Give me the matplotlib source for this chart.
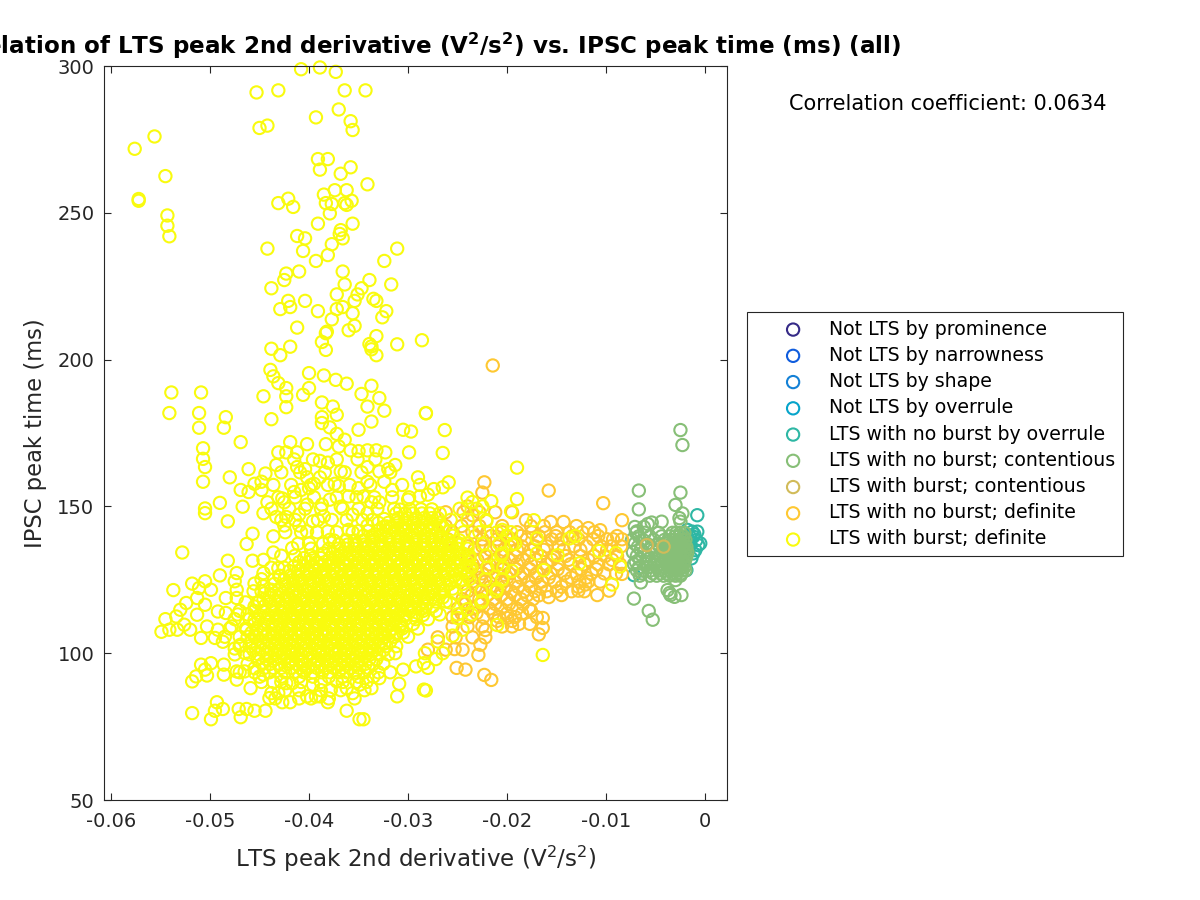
import numpy as np
from matplotlib import pyplot as plt

plt.rcParams['axes.unicode_minus'] = False

#colours of the classes, same order as the legend
labels = ["Not LTS by prominence", "Not LTS by narrowness", "Not LTS by shape", "Not LTS by overrule",
          "LTS with no burst by overrule", "LTS with no burst; contentious", "LTS with burst; contentious",
          "LTS with no burst; definite", "LTS with burst; definite"]
colors = ["#352A87", "#0F5CDD", "#1481D6", "#06A4CA", "#2EB7A4", "#87BF77", "#D1BB59", "#FEC832", "#F9FB0E"]
x_ticks = [-0.06, -0.05, -0.04, -0.03, -0.02, -0.01, 0]
x_ticklabels = ["-0.06", "-0.05", "-0.04", "-0.03", "-0.02", "-0.01", "0"]
y_ticks = [50, 100, 150, 200, 250, 300]

#teal class
teal_x = [-.0008, -.0008, -.0013, -.0018, -.0012, -.0007, -.0005, -.0010, -.0014, -.0019, -.0072, -.0009, -.0011, -.0016, -.0015, -.0012, -.0017]
teal_y = [147, 141.4, 141.4, 142, 139.7, 136.8, 137.4, 135.1, 132.3, 128.3, 126.6, 138.5, 140.5, 140, 137, 134, 135]

#tan class
tan_x = [-.0059, -.0042]
tan_y = [136.8, 136.3]

#green class, outliers
green_x = [-.0025, -.0023, -.0067, -.0025, -.0067, -.0030, -.0023, -.0025, -.0072, -.0057, -.0053, -.0065, -.0030, -.0038, -.0035, -.0031, -.0024,
           -.0036, -.0071, -.0058, -.0044, -.0054, -.0069, -.0062, -.0026]
green_y = [176, 170.9, 155.4, 154.7, 149, 150.5, 147.6, 144.8, 118.6, 114.4, 111.4, 124.1, 124.9, 121.5, 119.8, 119.2, 119.8,
           120.5, 143, 144, 144.8, 144.5, 141.5, 143, 146]
#green class, body of the cloud row by row
green_rows_y = [141, 139.8, 138.6, 137.3, 136.2, 135.2, 134.4, 133.1, 132, 131.1, 130.3, 129.3, 128.2, 127.2, 126.4]
green_rows_x = [
    [-.0070, -.0061, -.0047, -.0033, -.0029, -.0025, -.0021],
    [-.0067, -.0056, -.0044, -.0036, -.0030, -.0026, -.0022],
    [-.0074, -.0063, -.0052, -.0041, -.0035, -.0031, -.0027, -.0023, -.0020],
    [-.0071, -.0059, -.0048, -.0039, -.0033, -.0028, -.0024, -.0021],
    [-.0068, -.0055, -.0046, -.0038, -.0034, -.0030, -.0026, -.0022, -.0019],
    [-.0065, -.0052, -.0042, -.0036, -.0032, -.0028, -.0024, -.0020],
    [-.0073, -.0062, -.0050, -.0043, -.0037, -.0033, -.0029, -.0025, -.0021, -.0018],
    [-.0069, -.0058, -.0046, -.0040, -.0035, -.0031, -.0027, -.0023, -.0019],
    [-.0066, -.0057, -.0048, -.0040, -.0036, -.0032, -.0028, -.0024, -.0020],
    [-.0070, -.0060, -.0051, -.0043, -.0037, -.0033, -.0029, -.0025, -.0021],
    [-.0072, -.0060, -.0052, -.0044, -.0038, -.0034, -.0030, -.0026, -.0022],
    [-.0067, -.0058, -.0049, -.0041, -.0036, -.0032, -.0028, -.0024, -.0021],
    [-.0069, -.0063, -.0055, -.0047, -.0041, -.0036, -.0031, -.0027, -.0023, -.0020],
    [-.0064, -.0053, -.0045, -.0039, -.0033, -.0029, -.0024],
    [-.0066, -.0056, -.0049, -.0042, -.0036, -.0030, -.0025],
]

#orange class, outliers
orange_x = [-.02145, -.0223, -.0225, -.0158, -.0103, -.0084, -.0181, -.0156, -.0143, -.0130, -.0118, -.0106, -.0158, -.0145, -.0128, -.0109, -.0097,
            -.0121, -.0084, -.0164, -.0164, -.0168, -.0177, -.0227, -.0229, -.0253, -.0251, -.0242, -.0223, -.0216, -.0222, -.0210, -.0195,
            -.0188, -.0200, -.0176, -.0240, -.0235]
orange_y = [198, 158.2, 154.7, 155.4, 151.1, 145.3, 145.3, 144.7, 144.7, 143.3, 142.6, 141.9, 119.1, 119.8, 121.3, 119.8, 121.3,
            123.4, 127, 112, 108.6, 106.4, 110, 102.9, 99.4, 101.4, 95, 94.4, 92.6, 90.9, 107.9, 111, 111, 110, 112, 114.5, 150, 147]
#orange class, row by row
orange_rows_y = [148, 143.3, 141.2, 138.8, 136.4, 133.1, 130.3, 127.2, 124.4, 121.1, 118.4, 115.2, 112.3, 109.1, 105.4, 101.2]
orange_rows_x = [
    [-.0262, -.0244, -.0228, -.0212, -.0195],
    [-.0262, -.0246, -.0228, -.0205, -.0176, -.0163],
    [-.0255, -.0235, -.0220, -.0205, -.0190, -.0175, -.0162, -.0150, -.0137, -.0124, -.0112],
    [-.0260, -.0225, -.0210, -.0195, -.0180, -.0170, -.0155, -.0145, -.0128, -.0113, -.0099, -.0093, -.0084],
    [-.0240, -.0225, -.0210, -.0198, -.0185, -.0172, -.0160, -.0148, -.0132, -.0120, -.0105, -.0095, -.0085],
    [-.0240, -.0222, -.0205, -.0192, -.0178, -.0166, -.0152, -.0141, -.0126, -.0112, -.0101, -.0089],
    [-.0235, -.0218, -.0204, -.0190, -.0176, -.0160, -.0148, -.0136, -.0122, -.0108, -.0097, -.0086],
    [-.0240, -.0225, -.0210, -.0198, -.0184, -.0170, -.0156, -.0142, -.0130, -.0115, -.0102, -.0090],
    [-.0235, -.0222, -.0206, -.0192, -.0178, -.0165, -.0152, -.0140, -.0127, -.0118, -.0106],
    [-.0240, -.0225, -.0210, -.0196, -.0183, -.0172, -.0160, -.0150, -.0135, -.0122],
    [-.0245, -.0228, -.0214, -.0200, -.0186, -.0174],
    [-.0250, -.0235, -.0218, -.0206, -.0190, -.0178],
    [-.0255, -.0238, -.0224, -.0208, -.0192, -.0170],
    [-.0255, -.0240, -.0225, -.0205, -.0195],
    [-.0270, -.0252, -.0235, -.0222],
    [-.0280, -.0262, -.0245],
]
#extra orange between the rows above, where the cloud is thickest
orange2_rows_y = [139.9, 135.2, 131.8, 128.6, 125.7, 122.6, 119.7, 116.8, 113.6]
orange2_rows_x = [
    [-.0232, -.0216, -.0201, -.0186, -.0168, -.0151, -.0134, -.0108, -.0089],
    [-.0233, -.0217, -.0203, -.0190, -.0176, -.0163, -.0143, -.0126, -.0099],
    [-.0230, -.0213, -.0198, -.0184, -.0171, -.0155, -.0138, -.0118, -.0094],
    [-.0232, -.0218, -.0204, -.0191, -.0177, -.0163, -.0149, -.0125, -.0110],
    [-.0228, -.0214, -.0200, -.0186, -.0171, -.0158, -.0135, -.0120],
    [-.0232, -.0217, -.0203, -.0189, -.0176, -.0166, -.0145, -.0128],
    [-.0236, -.0220, -.0206, -.0192, -.0180, -.0168],
    [-.0242, -.0226, -.0212, -.0198, -.0184],
    [-.0246, -.0231, -.0214, -.0200, -.0185],
]

#yellow class, single circles
yellow_x = [-.0408, -.0389, -.0373, -.0453, -.0431, -.0364, -.0343, -.0370, -.0393, -.0358, -.0356, -.0450, -.0442, -.0556, -.0576, -.0545, -.0572, -.0572,
            -.0543, -.0543, -.0541, -.0391, -.0381, -.0389, -.0358, -.0368, -.0341, -.0385, -.0374, -.0362, -.0431, -.0421, -.0416, -.0383, -.0377,
            -.0364, -.0362, -.0357, -.0379, -.0391, -.0356, -.0368, -.0369, -.0366, -.0412, -.0404, -.0377, -.0442, -.0406, -.0381, -.0311, -.0324,
            -.0393, -.0410, -.0366, -.0423, -.0425, -.0438, -.0364, -.0339, -.0317, -.0347, -.0351, -.0372, -.0354, -.0335, -.0332, -.0421, -.0404,
            -.0419, -.0429, -.0391, -.0372, -.0366, -.0356, -.0322, -.0326, -.0377, -.0412, -.0354, -.0360, -.0382, -.0383, -.0332, -.0286, -.0311,
            -.0339, -.0337, -.0337, -.0387, -.0383, -.0438, -.0419, -.0429, -.0332,
            -.0539, -.0509, -.0541, -.0511, -.0484, -.0511, -.0486, -.0469, -.0507, -.0507, -.0505, -.0507, -.0461, -.0480, -.0444, -.0448, -.0455,
            -.0469, -.0461, -.0448, -.0490, -.0505, -.0505, -.0467, -.0482, -.0442, -.0446, -.0457, -.0463, -.0528, -.0482, -.0457, -.0446, -.0436, -.0537,
            -.0439, -.0436, -.0431, -.0423, -.0423, -.0423, -.0446, -.0400, -.0400, -.0406, -.0385, -.0373, -.0362, -.0347, -.0337, -.0341, -.0329, -.0324,
            -.0337, -.0387, -.0376, -.0372, -.0387, -.0387, -.0379, -.0438, -.0350, -.0305, -.0297, -.0282, -.0372, -.0364,
            -.0419, -.0402, -.0383, -.0370, -.0358, -.0350, -.0341, -.0332, -.0323, -.0299, -.0431, -.0423, -.0412, -.0433, -.0412, -.0404, -.0389, -.0381,
            -.0368, -.0341, -.0313, -.0320, -.0329, -.0290, -.0402, -.0389, -.0395, -.0374, -.0370, -.0341, -.0350, -.0324, -.0316,
            -.0415, -.0408, -.0400, -.0427, -.0425, -.0402, -.0387, -.0379, -.0360, -.0368, -.0345, -.0337, -.0329,
            -.0433, -.0423, -.0410, -.0396, -.0385, -.0356, -.0341, -.0324, -.0436, -.0425, -.0410, -.0402, -.0381, -.0360, -.0341, -.0322, -.0417, -.0379,
            -.0308, -.0300, -.0288, -.0431, -.0446, -.0429, -.0455, -.0446, -.0438,
            -.0518, -.0511, -.0505, -.0499, -.0490, -.0473, -.0475, -.0473, -.0484, -.0473, -.0513, -.0505, -.0524, -.0530, -.0534, -.0513, -.0492, -.0484,
            -.0545, -.0549, -.0541, -.0533, -.0526, -.0520, -.0509, -.0503, -.0495, -.0487, -.0492, -.0478, -.0475, -.0469, -.0465, -.0463, -.0455, -.0455, -.0446, -.0455,
            -.0518, -.0514, -.0509, -.0499, -.0505, -.0503, -.0486, -.0486, -.0473, -.0473, -.0465, -.0459, -.0455, -.0446, -.0438, -.0440, -.0431, -.0423,
            -.0417, -.0396, -.0372, -.0362, -.0356, -.0349, -.0337, -.0329, -.0313, -.0305, -.0292, -.0284, -.0283,
            -.0518, -.0493, -.0495, -.0487, -.0499, -.0471, -.0469, -.0463, -.0455, -.0444, -.0427, -.0419, -.0402, -.0393, -.0389, -.0381, -.0362, -.0349, -.0345,
            -.0311, -.0309, -.0284, -.0282,
            -.0164, -.0282, -.0263, -.0265, -.0190, -.0259, -.0190, -.0196, -.0216, -.0173, -.0131, -.0137, -.0170, -.0170, -.0149, -.0107, -.0090, -.0086, -.0127, -.0163, -.0094, -.0210,
            -.0274, -.0265, -.0280, -.0240, -.0235, -.0225, -.0221, -.0205, -.0200, -.0195, -.0205, -.0210, -.0195, -.0205, -.0210, -.0225, -.0240, -.0250, -.0245, -.0255, -.0270, -.0265, -.0272, -.0280]
yellow_y = [298.9, 299.5, 298, 291, 291.7, 291.7, 291.7, 285.2, 282.5, 281.2, 278.2, 278.9, 279.7, 276, 271.8, 262.5, 254.7, 254.1,
            249.1, 245.6, 242, 268.3, 268.3, 264.7, 265.5, 263.3, 259.7, 256.2, 257.7, 257.7, 253.3, 254.8, 252, 253.3, 253,
            253.3, 252.7, 254.1, 249.8, 246.3, 246.3, 244.1, 242.8, 241.3, 242.1, 241.3, 239.3, 237.8, 237, 235.6, 237.8, 233.6,
            233.6, 230, 230, 229.3, 227.1, 224.3, 225.6, 227.1, 225.6, 224.3, 222.2, 222.2, 220, 220.7, 220, 220, 220,
            217.9, 217.2, 216.5, 217.2, 217.9, 215.8, 216.5, 214.4, 213.7, 210.9, 211.5, 210, 209.5, 209, 208, 206.6, 205.2,
            205.3, 204.5, 203.5, 206, 203.3, 203.7, 204.4, 201.5, 201.5,
            188.8, 188.8, 181.8, 181.8, 180.4, 176.8, 176.8, 171.9, 169.8, 166.2, 163.4, 158.4, 162.7, 159.9, 161.2, 158.4, 157.7,
            155.6, 154.9, 155.6, 151.2, 149.3, 147.7, 149.9, 144.9, 151.4, 147.7, 140.7, 137.2, 134.3, 131.5, 131.5, 131.8, 134.3, 121.5,
            196.5, 194.3, 192, 190.3, 187.5, 183.8, 187.5, 195.4, 190.3, 188, 194.6, 193.1, 191.8, 188.3, 191.1, 184, 186.9, 182.6,
            178.9, 185.4, 184, 181.2, 180.4, 178.4, 176.9, 179.7, 176.1, 176.1, 175.5, 181.8, 174.7, 172.7,
            171.9, 171.2, 171.2, 170.4, 169.1, 168.8, 169.1, 169.1, 168.4, 168.4, 168.4, 168.4, 168.4, 164.1, 163.4, 162.7, 165.5, 164.9,
            161.9, 163.4, 164.1, 162.7, 161.9, 159.9, 159.9, 159.9, 157.7, 157.7, 157, 158.4, 156.2, 158.4, 155.6,
            154.9, 155.6, 156.2, 152.7, 151.4, 150.6, 150.6, 152.3, 153.4, 149.9, 153.4, 151.4, 151.4,
            146.4, 146.4, 147.2, 144.9, 146.6, 147.2, 147.7, 145.7, 139.8, 143.5, 143.5, 141.5, 141.5, 142, 143.5, 143.2, 135.8, 138.6,
            148.9, 152.3, 153.4, 129, 127.3, 126.2, 123.7, 122.8, 121.6,
            123.7, 122.2, 124.5, 121.6, 126.5, 127.3, 124.5, 121.6, 118.8, 118.8, 118.8, 116.5, 117.1, 114.8, 112.5, 113.1, 114.2, 113.7,
            111.6, 107.3, 108, 108, 109.7, 108, 105.2, 109.1, 105.2, 103.9, 108, 109.1, 101.6, 102.9, 100.1, 108, 111.4, 115.9, 118.2, 105.7,
            90.4, 92.1, 96.1, 96.6, 94.4, 92.4, 96.1, 92.7, 93.8, 91, 93.8, 88.1, 94.9, 92.7, 86.4, 84.7, 86.4, 89.8,
            89.8, 89.3, 90.4, 88.1, 86.4, 89.3, 88.1, 91.5, 100, 94.4, 95.5, 96.6, 100,
            79.6, 83.3, 80.4, 81, 77.5, 81, 78.2, 81, 80.4, 80.4, 83.3, 83.3, 85.3, 85.3, 85.3, 83.3, 80.4, 77.5, 77.5,
            85.3, 89.6, 87.6, 87.3,
            99.4, 181.7, 176, 168.2, 163.2, 158.2, 152.5, 148.3, 151.8, 145.3, 139.9, 139.1, 139.1, 134, 133.4, 134.8, 134.1, 129.5, 130.6, 128.3, 123.4, 109.6,
            155.9, 156.5, 154, 153, 151.5, 150, 145, 142, 140, 137, 134, 130, 128, 125, 122, 118, 115, 112, 108, 106, 104, 100, 98, 95]

#yellow class, dense core row by row
core_rows_y = [92, 95, 98, 101, 104, 107, 110, 113, 116, 119, 122, 125, 128, 131, 134, 137, 140, 143, 146, 149]
core_rows_x = [
    [-.0450, -.0428, -.0410, -.0396, -.0380, -.0366, -.0350, -.0335],
    [-.0445, -.0436, -.0428, -.0418, -.0409, -.0401, -.0392, -.0383, -.0375, -.0366, -.0358, -.0349, -.0340],
    [-.0452, -.0443, -.0434, -.0425, -.0417, -.0408, -.0399, -.0391, -.0382, -.0373, -.0364, -.0356, -.0347, -.0339, -.0332],
    [-.0456, -.0447, -.0438, -.0429, -.0421, -.0412, -.0403, -.0394, -.0386, -.0377, -.0369, -.0360, -.0351, -.0342, -.0334, -.0325],
    [-.0458, -.0449, -.0440, -.0431, -.0423, -.0414, -.0405, -.0397, -.0388, -.0379, -.0371, -.0362, -.0353, -.0345, -.0336, -.0327, -.0318],
    [-.0458, -.0449, -.0441, -.0432, -.0423, -.0414, -.0406, -.0397, -.0388, -.0380, -.0371, -.0362, -.0354, -.0345, -.0336, -.0328, -.0319, -.0312, -.0305],
    [-.0455, -.0446, -.0437, -.0429, -.0420, -.0411, -.0403, -.0394, -.0385, -.0377, -.0368, -.0359, -.0351, -.0342, -.0333, -.0325, -.0316, -.0307, -.0295],
    [-.0450, -.0441, -.0433, -.0424, -.0415, -.0407, -.0398, -.0389, -.0381, -.0372, -.0363, -.0355, -.0346, -.0337, -.0329, -.0320, -.0311, -.0303, -.0294, -.0285],
    [-.0445, -.0436, -.0427, -.0419, -.0410, -.0401, -.0393, -.0384, -.0375, -.0367, -.0358, -.0349, -.0341, -.0332, -.0323, -.0315, -.0306, -.0297, -.0289, -.0282, -.0275],
    [-.0440, -.0431, -.0422, -.0414, -.0405, -.0396, -.0388, -.0379, -.0370, -.0362, -.0353, -.0344, -.0336, -.0327, -.0318, -.0310, -.0301, -.0292, -.0284, -.0275, -.0265],
    [-.0430, -.0421, -.0412, -.0404, -.0395, -.0386, -.0378, -.0369, -.0360, -.0352, -.0343, -.0334, -.0326, -.0317, -.0308, -.0300, -.0291, -.0282, -.0274, -.0265, -.0255],
    [-.0425, -.0416, -.0407, -.0399, -.0390, -.0381, -.0373, -.0364, -.0355, -.0347, -.0338, -.0329, -.0321, -.0312, -.0303, -.0295, -.0286, -.0277, -.0269, -.0260, -.0252, -.0245],
    [-.0420, -.0411, -.0402, -.0394, -.0385, -.0376, -.0368, -.0359, -.0350, -.0342, -.0333, -.0324, -.0316, -.0307, -.0298, -.0290, -.0281, -.0272, -.0264, -.0255, -.0247, -.0240],
    [-.0410, -.0401, -.0392, -.0384, -.0375, -.0366, -.0358, -.0349, -.0340, -.0332, -.0323, -.0314, -.0306, -.0297, -.0288, -.0280, -.0271, -.0262, -.0254, -.0246, -.0240],
    [-.0385, -.0376, -.0367, -.0359, -.0350, -.0341, -.0333, -.0324, -.0315, -.0307, -.0298, -.0289, -.0281, -.0272, -.0263, -.0255, -.0245],
    [-.0370, -.0361, -.0352, -.0344, -.0335, -.0326, -.0318, -.0309, -.0300, -.0292, -.0283, -.0274, -.0266, -.0258, -.0250],
    [-.0345, -.0336, -.0328, -.0319, -.0310, -.0302, -.0293, -.0284, -.0276, -.0267, -.0255],
    [-.0325, -.0316, -.0307, -.0299, -.0290, -.0281, -.0273, -.0265],
    [-.0310, -.0301, -.0292, -.0284, -.0276, -.0270],
    [-.0298, -.0287, -.0276],
]
#more yellow between those rows, the core is solid in the picture
core2_rows_y = [93.5, 96.4, 99.6, 102.4, 105.6, 108.4, 111.6, 114.4, 117.6, 120.4, 123.6, 126.4, 129.6, 132.4, 135.6, 138.4, 141.6, 144.4, 147.6]
core2_rows_x = [
    [-.0470, -.0455, -.0440, -.0424, -.0414, -.0405, -.0396, -.0387, -.0379, -.0370, -.0362, -.0353, -.0344, -.0330, -.0318],
    [-.0462, -.0447, -.0439, -.0430, -.0421, -.0413, -.0404, -.0395, -.0387, -.0378, -.0369, -.0360, -.0352, -.0343, -.0335, -.0325],
    [-.0475, -.0460, -.0451, -.0442, -.0434, -.0425, -.0416, -.0408, -.0399, -.0390, -.0382, -.0373, -.0364, -.0356, -.0347, -.0338, -.0329, -.0320],
    [-.0470, -.0460, -.0452, -.0443, -.0434, -.0426, -.0417, -.0408, -.0400, -.0391, -.0382, -.0374, -.0365, -.0356, -.0348, -.0339, -.0330, -.0322, -.0312],
    [-.0485, -.0470, -.0462, -.0453, -.0444, -.0436, -.0427, -.0418, -.0410, -.0401, -.0392, -.0384, -.0375, -.0366, -.0358, -.0349, -.0340, -.0332, -.0323, -.0314, -.0300],
    [-.0480, -.0464, -.0453, -.0445, -.0436, -.0427, -.0419, -.0410, -.0401, -.0393, -.0384, -.0375, -.0367, -.0358, -.0349, -.0341, -.0332, -.0323, -.0315, -.0306, -.0290],
    [-.0475, -.0460, -.0451, -.0442, -.0433, -.0425, -.0416, -.0407, -.0399, -.0390, -.0381, -.0373, -.0364, -.0355, -.0347, -.0338, -.0329, -.0321, -.0312, -.0303, -.0292, -.0280],
    [-.0470, -.0455, -.0446, -.0437, -.0428, -.0420, -.0411, -.0402, -.0394, -.0385, -.0376, -.0368, -.0359, -.0350, -.0342, -.0333, -.0324, -.0316, -.0307, -.0298, -.0285, -.0272],
    [-.0450, -.0440, -.0431, -.0423, -.0414, -.0405, -.0397, -.0388, -.0379, -.0371, -.0362, -.0353, -.0345, -.0336, -.0327, -.0319, -.0310, -.0301, -.0293, -.0284, -.0272, -.0262],
    [-.0445, -.0435, -.0426, -.0417, -.0409, -.0400, -.0391, -.0383, -.0374, -.0365, -.0357, -.0348, -.0339, -.0331, -.0322, -.0313, -.0305, -.0296, -.0287, -.0279, -.0268, -.0252],
    [-.0435, -.0424, -.0416, -.0407, -.0398, -.0390, -.0381, -.0372, -.0364, -.0355, -.0346, -.0338, -.0329, -.0320, -.0312, -.0303, -.0294, -.0286, -.0277, -.0268, -.0258, -.0245],
    [-.0430, -.0419, -.0411, -.0402, -.0393, -.0385, -.0376, -.0367, -.0359, -.0350, -.0341, -.0333, -.0324, -.0315, -.0307, -.0298, -.0289, -.0281, -.0272, -.0263, -.0253, -.0240],
    [-.0415, -.0406, -.0397, -.0389, -.0380, -.0371, -.0363, -.0354, -.0345, -.0337, -.0328, -.0319, -.0311, -.0302, -.0293, -.0285, -.0276, -.0267, -.0259, -.0250, -.0238],
    [-.0405, -.0396, -.0388, -.0379, -.0370, -.0362, -.0353, -.0344, -.0336, -.0327, -.0318, -.0310, -.0301, -.0292, -.0284, -.0275, -.0266, -.0258, -.0249, -.0238],
    [-.0398, -.0380, -.0371, -.0363, -.0354, -.0345, -.0337, -.0328, -.0319, -.0311, -.0302, -.0293, -.0285, -.0276, -.0267, -.0259, -.0250, -.0240],
    [-.0375, -.0362, -.0354, -.0345, -.0336, -.0328, -.0319, -.0310, -.0302, -.0293, -.0284, -.0276, -.0267, -.0259, -.0248],
    [-.0350, -.0340, -.0331, -.0322, -.0314, -.0305, -.0296, -.0288, -.0279, -.0270, -.0258],
    [-.0330, -.0320, -.0311, -.0303, -.0294, -.0285, -.0277, -.0268],
    [-.0312, -.0303, -.0295, -.0286, -.0278, -.0268],
]
#third pass over the solid band
core3_rows_y = [97.2, 100.8, 103.3, 106.7, 109.3, 112.7, 115.3, 118.7, 121.3, 124.7, 127.3, 130.7, 133.3, 136.7, 139.3, 142.7]
core3_rows_x = [
    [-.0420, -.0406, -.0392, -.0378, -.0364, -.0350],
    [-.0432, -.0418, -.0404, -.0390, -.0376, -.0362, -.0348, -.0336],
    [-.0434, -.0420, -.0406, -.0392, -.0378, -.0364, -.0350, -.0336, -.0324],
    [-.0436, -.0422, -.0408, -.0394, -.0380, -.0366, -.0352, -.0338, -.0324, -.0312],
    [-.0434, -.0420, -.0406, -.0392, -.0378, -.0364, -.0350, -.0336, -.0322, -.0308],
    [-.0430, -.0416, -.0402, -.0388, -.0374, -.0360, -.0346, -.0332, -.0318, -.0304, -.0292],
    [-.0426, -.0412, -.0398, -.0384, -.0370, -.0356, -.0342, -.0328, -.0314, -.0300, -.0286],
    [-.0420, -.0406, -.0392, -.0378, -.0364, -.0350, -.0336, -.0322, -.0308, -.0294, -.0280],
    [-.0416, -.0402, -.0388, -.0374, -.0360, -.0346, -.0332, -.0318, -.0304, -.0290, -.0276, -.0264],
    [-.0410, -.0396, -.0382, -.0368, -.0354, -.0340, -.0326, -.0312, -.0298, -.0284, -.0270, -.0257],
    [-.0400, -.0386, -.0372, -.0358, -.0344, -.0330, -.0316, -.0302, -.0288, -.0274, -.0260],
    [-.0392, -.0378, -.0364, -.0350, -.0336, -.0322, -.0308, -.0294, -.0280, -.0266, -.0252],
    [-.0370, -.0356, -.0342, -.0328, -.0314, -.0300, -.0286, -.0272, -.0258],
    [-.0354, -.0340, -.0326, -.0312, -.0298, -.0284, -.0270, -.0256],
    [-.0336, -.0322, -.0308, -.0294, -.0280, -.0266],
    [-.0318, -.0304, -.0290, -.0276],
]
#loose yellow rings around the core, above it, below it and towards the orange
ring_rows_y = [166, 161.6, 157.3, 153.1, 149.2, 145.4, 141.2, 137.3, 133.2, 129.1, 125.2, 121.1, 117.3, 113.2, 90.2, 87.4, 84.6]
ring_rows_x = [
    [-.0415, -.0396, -.0372, -.0351, -.0333],
    [-.0428, -.0409, -.0384, -.0364, -.0347, -.0318],
    [-.0436, -.0418, -.0398, -.0381, -.0359, -.0338, -.0306, -.0288],
    [-.0431, -.0414, -.0395, -.0372, -.0352, -.0334, -.0316, -.0299],
    [-.0438, -.0420, -.0404, -.0388, -.0366, -.0350, -.0331, -.0314, -.0248, -.0231],
    [-.0428, -.0414, -.0391, -.0377, -.0362, -.0346, -.0336, -.0257, -.0240, -.0221],
    [-.0424, -.0408, -.0392, -.0372, -.0356, -.0244, -.0228, -.0210, -.0196],
    [-.0411, -.0400, -.0386, -.0240, -.0224, -.0208, -.0192],
    [-.0428, -.0414, -.0398, -.0238, -.0221, -.0206],
    [-.0438, -.0425, -.0236, -.0220, -.0204],
    [-.0448, -.0435, -.0238, -.0222, -.0205],
    [-.0456, -.0448, -.0243, -.0226, -.0211],
    [-.0464, -.0452, -.0258, -.0243, -.0226],
    [-.0472, -.0462, -.0268, -.0250, -.0236],
    [-.0448, -.0436, -.0428, -.0408, -.0388, -.0366, -.0352, -.0342],
    [-.0424, -.0410, -.0388, -.0378, -.0368, -.0344],
    [-.0434, -.0410, -.0398, -.0380, -.0354],
]


#Each row list gives one y value for all of its x values
def flatten(rows_x, rows_y):
    xs = np.concatenate(rows_x)
    ys = np.repeat(rows_y, [len(r) for r in rows_x])
    return xs, ys


green_bx, green_by = flatten(green_rows_x, green_rows_y)
orange_bx, orange_by = flatten(orange_rows_x, orange_rows_y)
orange2_bx, orange2_by = flatten(orange2_rows_x, orange2_rows_y)
core_x, core_y = flatten(core_rows_x, core_rows_y)
core2_x, core2_y = flatten(core2_rows_x, core2_rows_y)
core3_x, core3_y = flatten(core3_rows_x, core3_rows_y)
ring_x, ring_y = flatten(ring_rows_x, ring_rows_y)

series_x = [[], [], [], [], teal_x, np.concatenate([green_x, green_bx]), tan_x,
            np.concatenate([orange_x, orange_bx, orange2_bx]),
            np.concatenate([yellow_x, core_x, core2_x, core3_x, ring_x])]
series_y = [[], [], [], [], teal_y, np.concatenate([green_y, green_by]), tan_y,
            np.concatenate([orange_y, orange_by, orange2_by]),
            np.concatenate([yellow_y, core_y, core2_y, core3_y, ring_y])]

dark = "#262626"
fig = plt.figure(figsize=(12, 9), dpi=100)
ax = fig.add_axes([104 / 1200, 100 / 900, 623 / 1200, 734 / 900])

for i in range(9):
    ax.scatter(series_x[i], series_y[i], s=78, facecolors='none', edgecolors=colors[i],
               linewidths=1.5, label=labels[i], clip_on=len(series_x[i]) == 0, zorder=i + 1)

ax.set_xlim(-0.0607, 0.0022)
ax.set_ylim(50, 300)
ax.set_xticks(x_ticks)
ax.set_xticklabels(x_ticklabels)
ax.set_yticks(y_ticks)
ax.tick_params(direction='in', top=True, right=True, length=5.2, width=0.8, color=dark,
               labelcolor=dark, labelsize=14, pad=7)
ax.tick_params(axis='x', pad=8.5)
for s in ax.spines.values():
    s.set_color(dark)
    s.set_linewidth(0.8)
    s.set_zorder(20)

ax.set_xlabel(r"LTS peak 2nd derivative (V$^2$/s$^2$)", fontsize=16.6, color=dark, labelpad=9)
ax.set_ylabel("IPSC peak time (ms)", fontsize=16.3, color=dark, labelpad=7)
fig.text(415.5 / 1200, 1 - 46 / 900,
         r"Correlation of LTS peak 2nd derivative ($\mathbf{V^2/s^2}$) vs. IPSC peak time (ms) (all)",
         fontsize=16.6, fontweight='bold', ha='center', va='center')
fig.text(948 / 1200, 1 - 104 / 900, "Correlation coefficient: 0.0634", fontsize=15,
         ha='center', va='center')

leg = ax.legend(loc='upper left', bbox_to_anchor=(747 / 1200, 1 - 312 / 900), bbox_transform=fig.transFigure,
                borderaxespad=0, fontsize=13.55, frameon=True, fancybox=False, edgecolor=dark, framealpha=1,
                labelspacing=0.385, handletextpad=-0.14, handlelength=4.1, borderpad=0.4)
leg.get_frame().set_linewidth(0.8)

plt.savefig("out.png", dpi=100)
